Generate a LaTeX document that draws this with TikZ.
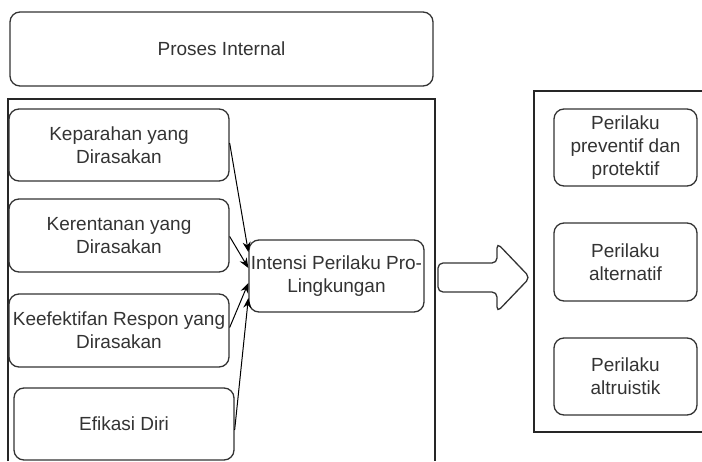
\documentclass[tikz,border=0pt]{standalone}
\usepackage{fontspec}
\setmainfont{Liberation Sans}
\usetikzlibrary{arrows.meta}
\definecolor{txt}{HTML}{333333}
\definecolor{edge}{HTML}{333333}
\tikzset{
  box/.style={draw=edge, line width=1.3pt, rounded corners=10pt, inner sep=0pt,
    align=center, text=txt, font=\fontsize{19}{23}\selectfont},
  cont/.style={draw=black!85, line width=1.3pt},
  conn/.style={draw=black, line width=1pt, -{Stealth[length=10pt,width=8pt]}},
}
\begin{document}
\begin{tikzpicture}[x=1pt,y=-1pt]
\useasboundingbox (0,0) rectangle (702,461);
% containers
\draw[cont] (8,461) -- (8,99) -- (435,99) -- (435,461);
\draw[cont] (702,91) -- (534,91) -- (534,432) -- (702,432);
% nodes
\node[box, minimum width=423pt, minimum height=74pt] (proses) at (221.5,49) {Proses Internal};
\node[box, minimum width=220pt, minimum height=72pt] (kep) at (119,145) {Keparahan yang\\Dirasakan};
\node[box, minimum width=220pt, minimum height=73pt] (ker) at (119,235.5) {Kerentanan yang\\Dirasakan};
\node[box, minimum width=220pt, minimum height=73pt] (kee) at (119,330.5) {Keefektifan Respon yang\\Dirasakan};
\node[box, minimum width=220pt, minimum height=72pt] (efi) at (124,424) {Efikasi Diri};
\node[box, minimum width=175pt, minimum height=72pt] (int) at (336.5,276) {Intensi Perilaku Pro-\\Lingkungan};
\node[box, minimum width=143pt, minimum height=77pt] (p1) at (625.5,147.5) {Perilaku\\preventif dan\\protektif};
\node[box, minimum width=143pt, minimum height=78pt] (p2) at (625.5,262) {Perilaku\\alternatif};
\node[box, minimum width=143pt, minimum height=77pt] (p3) at (625.5,376.5) {Perilaku\\altruistik};
% connectors
\draw[conn] ([yshift=2pt]kep.east) -- ([yshift=24pt]int.west);
\draw[conn] ([yshift=-1pt]ker.east) -- ([yshift=8pt]int.west);
\draw[conn] ([yshift=3pt]kee.east) -- ([yshift=-7pt]int.west);
\draw[conn] ([yshift=-6pt]efi.east) -- ([yshift=-22pt]int.west);
% block arrow
\draw[draw=edge, line width=1.3pt, rounded corners=5pt]
  (438,263) -- (497,263) -- (497,243) -- (530,277.5) -- (497,312) -- (497,292) -- (438,292) -- cycle;
\end{tikzpicture}
\end{document}
